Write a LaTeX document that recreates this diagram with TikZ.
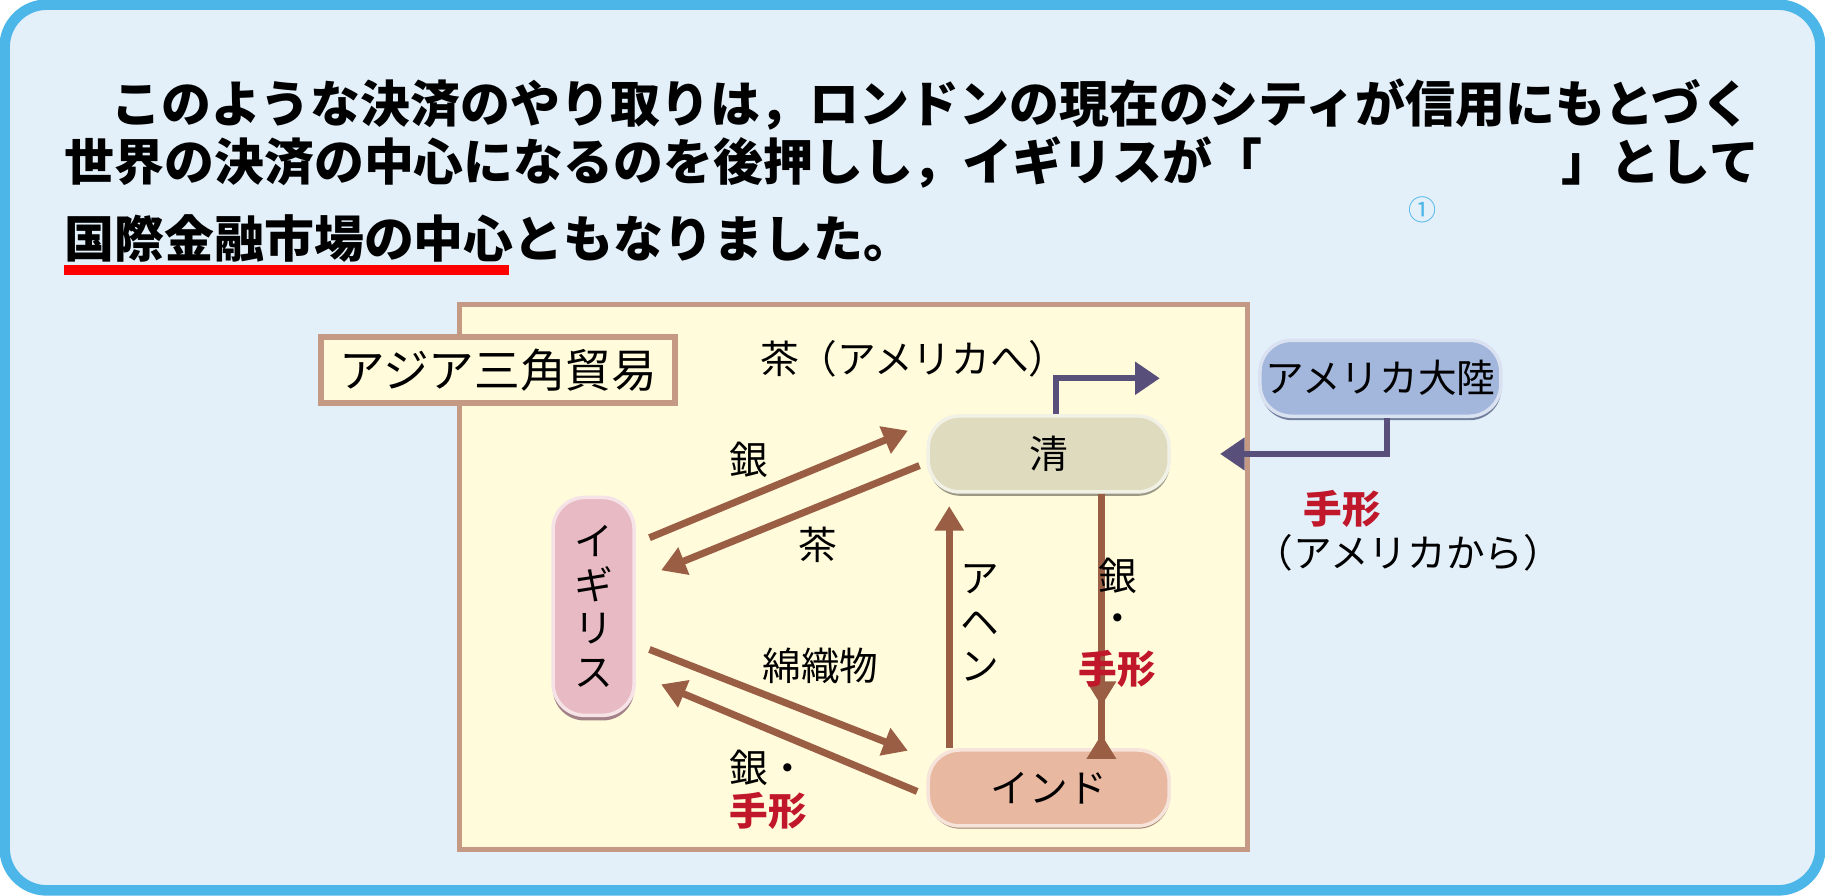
\documentclass[tikz,border=0pt]{standalone}
\usepackage{fontspec}
\setmainfont{Noto Sans CJK JP}
\usetikzlibrary{arrows.meta, positioning}

\definecolor{frameblue}{HTML}{4DB6E8}
\definecolor{bgblue}{HTML}{E3F0FA}
\definecolor{cream}{HTML}{FFFBDB}
\definecolor{tan}{HTML}{C49A84}
\definecolor{brownarrow}{HTML}{9A5E45}
\definecolor{purplearrow}{HTML}{58507A}
\definecolor{qingfill}{HTML}{DEDBBF}
\definecolor{indiafill}{HTML}{E8B8A0}
\definecolor{ukfill}{HTML}{E8BAC3}
\definecolor{usfill}{HTML}{A3B7DD}
\definecolor{labelred}{HTML}{C0182A}

\tikzset{
  country/.style={rounded corners=9pt, minimum width=2.41cm, minimum height=0.76cm,
    font=\fontsize{11}{13}\selectfont, inner sep=0pt},
  trade/.style={brownarrow, line width=2pt, -{Triangle[length=7pt, width=8pt]}},
  bill/.style={purplearrow, line width=1.7pt, -{Triangle[length=7pt, width=9pt]}},
  lbl/.style={font=\fontsize{11}{13}\selectfont, inner sep=0pt},
  body/.style={font=\fontsize{14.2}{17}\selectfont\bfseries, inner sep=0pt}
}

\begin{document}
\begin{tikzpicture}[x=0.01164cm, y=-0.01164cm]
    % Frame
    \useasboundingbox (0,0) rectangle (1568,769);
    \draw[frameblue, fill=bgblue, line width=3pt, rounded corners=12pt] (4,4) rectangle (1564,765);

    % Body text
    \node[body, anchor=west] (line1) at (95,90) {このような決済のやり取りは，ロンドンの現在のシティが信用にもとづく};
    \node[body, anchor=west] (line2a) at (55,140) {世界の決済の中心になるのを後押しし，イギリスが「};
    \node[body, anchor=east] (line2b) at (1512,140) {」として};
    \node[body, anchor=west] (line3) at (55,205) {国際金融市場の中心ともなりました。};
    \node[frameblue, font=\fontsize{8}{9}\selectfont, inner sep=0pt] (num) at (1222,180) {①};
    \fill[red] (55,228) rectangle (437,236);

    % Trade area
    \draw[tan, fill=cream, line width=1.4pt] (395,262) rectangle (1072,730);
    \node[draw=tan, fill=cream, line width=1.8pt, minimum width=3.54cm, minimum height=0.64cm,
      font=\fontsize{13}{15}\selectfont] (title) at (428,318) {アジア三角貿易};

    % Countries
    \fill[qingfill!70!black, rounded corners=9pt] (798,361) rectangle (1005,426);
    \node[country, fill=qingfill, draw=white!60!qingfill, line width=1pt] (qing) at (901,390) {清};
    \fill[indiafill!70!black, rounded corners=9pt] (798,649) rectangle (1005,712);
    \node[country, fill=indiafill, draw=white!60!indiafill, line width=1pt] (india) at (901,677) {インド};
    \fill[ukfill!70!black, rounded corners=9pt] (475,432) rectangle (545,619);
    \node[country, fill=ukfill, draw=white!60!ukfill, line width=1pt, minimum width=0.81cm,
      minimum height=2.18cm, align=center, font=\fontsize{11}{12.5}\selectfont] (uk) at (510,521) {イ\\ギ\\リ\\ス};
    \fill[usfill!70!black, rounded corners=9pt] (1083,296) rectangle (1290,361);
    \node[country, fill=usfill, draw=white!60!usfill, line width=1pt] (us) at (1186,325) {アメリカ大陸};

    % Arrow ends
    \coordinate (ukTop) at (558,462);
    \coordinate (qingLeft) at (780,370);
    \coordinate (qingOut) at (790,400);
    \coordinate (ukIn) at (568,490);
    \coordinate (ukLow) at (558,558);
    \coordinate (indiaLeft) at (780,645);
    \coordinate (indiaOut) at (788,680);
    \coordinate (ukBack) at (568,588);

    % Trade arrows
    \draw[trade] (ukTop) -- (qingLeft);
    \draw[trade] (qingOut) -- (ukIn);
    \draw[trade] (ukLow) -- (indiaLeft);
    \draw[trade] (indiaOut) -- (ukBack);
    \draw[trade] ([xshift=-12\pgflinewidth]india.north) ++(-13,0) -- ++(0,-208);
    \draw[trade] ([xshift=15]qing.south) -- ([xshift=15]india.north) ++(0,-12);
    \draw[trade] ([xshift=15]qing.south) -- ([xshift=15, yshift=12]india.north);

    % Bills
    \draw[bill] ([xshift=2]qing.north) |- ([xshift=-28]us.west);
    \draw[bill] ([xshift=2]us.south) |- ([xshift=14]qing.east);

    % Labels
    \node[lbl] (silver1) at (643,395) {銀};
    \node[lbl] (tea1) at (703,468) {茶};
    \node[lbl] (cotton) at (705,572) {綿織物};
    \node[lbl] (silver2) at (660,660) {銀・};
    \node[lbl, labelred, font=\fontsize{11}{13}\selectfont\bfseries] (bill2) at (660,697) {手形};
    \node[lbl, align=center, font=\fontsize{11}{12.5}\selectfont] (opium) at (842,535) {ア\\ヘ\\ン};
    \node[lbl] (silver3) at (960,495) {銀};
    \node[lbl] (dot3) at (960,535) {・};
    \node[lbl, labelred, font=\fontsize{11}{13}\selectfont\bfseries] (bill3) at (960,575) {手形};
    \node[lbl] (tea2) at (785,308) {茶（アメリカへ）};
    \node[lbl, labelred, font=\fontsize{11}{13}\selectfont\bfseries] (bill4) at (1153,437) {手形};
    \node[lbl] (fromus) at (1210,475) {（アメリカから）};
\end{tikzpicture}
\end{document}
